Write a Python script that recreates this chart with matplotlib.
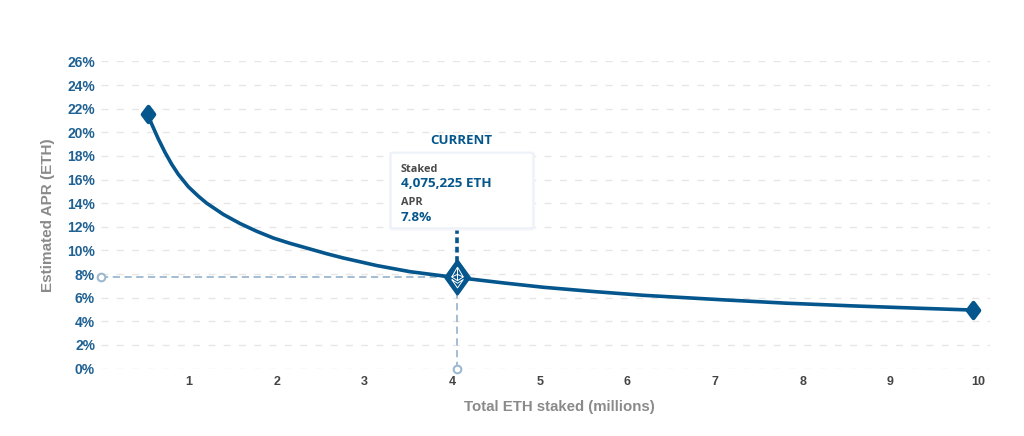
import matplotlib
matplotlib.use("Agg")
import matplotlib.pyplot as plt
from matplotlib.markers import MarkerStyle
from matplotlib.patches import FancyBboxPatch
from matplotlib.path import Path

W, H = 1024, 436
BLUE = "#04568c"
TICK_BLUE = "#1f6193"
GREY = "#8a8a8a"
GUIDE = "#9db8cf"

# values
staked = [0.527, 0.575, 0.65, 0.727, 0.803, 0.878, 0.992, 1.106, 1.202, 1.392, 1.582, 1.773, 1.962, 2.152, 2.343,
          2.571, 2.76, 3.141, 3.521, 3.94, 4.06, 4.206, 4.585, 5.042, 5.612, 6.182, 7.057, 7.818, 8.578, 9.338, 9.94]
apr = [21.55, 20.7, 19.45, 18.3, 17.3, 16.45, 15.4, 14.6, 14.0, 13.05, 12.28, 11.62, 11.05, 10.6, 10.2,
       9.72, 9.36, 8.72, 8.2, 7.8, 7.7, 7.58, 7.25, 6.88, 6.52, 6.2, 5.83, 5.53, 5.3, 5.1, 4.95]
current_x = 4.06
current_y = 7.75
y_ticks = list(range(0, 28, 2))
x_ticks = list(range(1, 11))

plt.rcParams["font.family"] = ["Liberation Sans", "DejaVu Sans"]

fig = plt.figure(figsize=(W / 100, H / 100), dpi=100)
ax = fig.add_axes([101.3 / W, 1 - 368.5 / H, 888.7 / W, 307 / H])
ax.set_xlim(0, 10.137)
ax.set_ylim(0, 26)

for s in ax.spines.values():
    s.set_visible(False)

ax.set_yticks(y_ticks)
ax.set_yticklabels([f"{v}%" for v in y_ticks], fontsize=10, fontweight="bold", color=TICK_BLUE)
ax.set_xticks(x_ticks)
ax.set_xticklabels(x_ticks, fontsize=9, fontweight="bold", color="#444444")
ax.tick_params(axis="both", length=0)
ax.tick_params(axis="y", pad=4.5)
ax.tick_params(axis="x", pad=5.5)
ax.grid(axis="y", color="#e6e6e6", lw=1, ls=(0, (5, 6)))
ax.set_axisbelow(True)

ax.set_xlabel("Total ETH staked (millions)", fontsize=10.8, fontweight="bold", color=GREY)
ax.xaxis.set_label_coords((559 - 101.3) / 888.7, -(406.5 - 368.5) / 307, transform=ax.transAxes)
ax.xaxis.label.set_va("center")
ax.set_ylabel("Estimated APR (ETH)", fontsize=11, fontweight="bold", color=GREY)
ax.yaxis.set_label_coords((48 - 101.3) / 888.7, (368.5 - 215) / 307, transform=ax.transAxes)
ax.yaxis.label.set_va("center")

# guides to the current point
ax.plot([0, current_x], [current_y, current_y], color=GUIDE, lw=1.3, ls=(0, (4, 2.5)), zorder=2)
ax.plot([current_x, current_x], [0, current_y], color=GUIDE, lw=1.3, ls=(0, (4, 2.5)), zorder=2)
ax.plot([current_x, current_x], [11.9, current_y], color=BLUE, lw=2.6, ls=(0, (1.6, 1)), zorder=2)
ax.plot([0], [current_y], "o", ms=5.5, mfc="white", mec=GUIDE, mew=1.5, clip_on=False, zorder=3)
ax.plot([current_x], [0], "o", ms=5.5, mfc="white", mec=GUIDE, mew=1.5, clip_on=False, zorder=3)

ax.plot(staked, apr, color=BLUE, lw=2.6, zorder=4, solid_capstyle="round")


def diamond(ratio):
    return MarkerStyle(Path([(0, 1), (ratio, 0), (0, -1), (-ratio, 0), (0, 1)], closed=True), joinstyle="round")


ax.plot([staked[0], staked[-1]], [apr[0], apr[-1]], marker=diamond(0.75), ls="none", ms=11,
        mew=3, mec=BLUE, mfc=BLUE, zorder=5)

# current marker with the ether glyph
ax.plot([current_x], [current_y], marker=diamond(0.72), ms=24, mfc=BLUE, mec=BLUE, mew=2, zorder=6)
ether = Path(
    [(0, 1), (0.55, 0.05), (0, -0.3), (-0.55, 0.05), (0, 1),
     (-0.55, 0.05), (0, 0.3), (0.55, 0.05),
     (0, 1), (0, -0.3),
     (-0.55, -0.2), (0, -1), (0.55, -0.2), (0, -0.55), (-0.55, -0.2)],
    [Path.MOVETO, Path.LINETO, Path.LINETO, Path.LINETO, Path.LINETO,
     Path.MOVETO, Path.LINETO, Path.LINETO,
     Path.MOVETO, Path.LINETO,
     Path.MOVETO, Path.LINETO, Path.LINETO, Path.LINETO, Path.LINETO],
)
ax.plot([current_x], [current_y], marker=ether, ms=15, mfc="none", mec="white", mew=0.7, zorder=7)


# tooltip box, positioned in pixels
def px(x, y):
    return x / W, 1 - y / H


shadow = FancyBboxPatch(px(390, 229.5), 144 / W, 77 / H, boxstyle="round,pad=0,rounding_size=0.003",
                        transform=fig.transFigure, fc="#f3f5fb", ec="#f3f5fb", lw=1.5, zorder=8)
fig.add_artist(shadow)
box = FancyBboxPatch(px(391, 228), 142 / W, 75 / H, boxstyle="round,pad=0,rounding_size=0.003",
                     transform=fig.transFigure, fc="white", ec="#e9eef7", lw=0.8, zorder=8)
fig.add_artist(box)
TIP = ["Open Sans", "DejaVu Sans"]
fig.text(*px(461.5, 141), "CURRENT", fontsize=9.5, fontweight="bold", color=BLUE, ha="center", va="center", family=TIP, zorder=9)
fig.text(*px(401, 169), "Staked", fontsize=7.8, fontweight="bold", color="#4a4a4a", va="center", family=TIP, zorder=9)
fig.text(*px(401, 183), "4,075,225 ETH", fontsize=9.7, fontweight="bold", color=BLUE, va="center", family=TIP, zorder=9)
fig.text(*px(401, 202), "APR", fontsize=7.8, fontweight="bold", color="#4a4a4a", va="center", family=TIP, zorder=9)
fig.text(*px(401, 217), "7.8%", fontsize=9.7, fontweight="bold", color=BLUE, va="center", family=TIP, zorder=9)

fig.savefig("out.png", dpi=100)
